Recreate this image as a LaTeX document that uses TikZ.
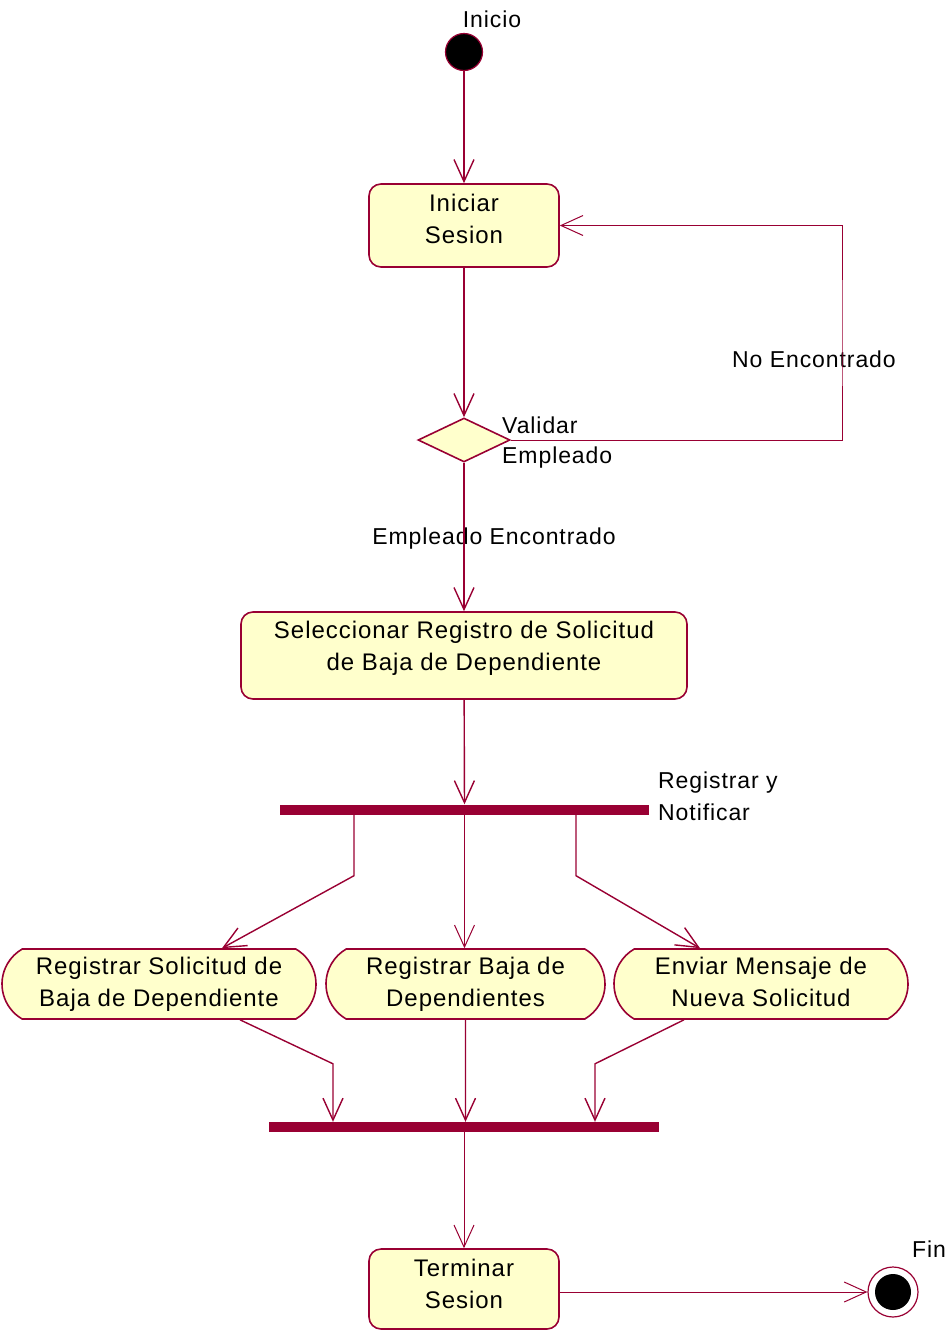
\documentclass[tikz,border=0pt]{standalone}
\usepackage{fontspec}
\newfontfamily\rosefont[LetterSpace=4]{Liberation Sans}
\usetikzlibrary{arrows.meta,shapes.geometric,shapes.misc,calc}
\definecolor{rosered}{RGB}{153,0,51}
\definecolor{roseyellow}{RGB}{255,255,204}
% two centred lines, raised inside their box
\newcommand{\boxtext}[3]{\raisebox{#1}[\height][\depth]{\begin{tabular}{@{}c@{}}#2\\#3\end{tabular}}}
\tikzset{
  conn/.style={draw=rosered, line width=1.4pt},
  arr/.style={conn, -{Straight Barb[length=22pt,width=20pt]}},
  arrthin/.style={draw=rosered, line width=1pt, -{Straight Barb[length=22pt,width=20pt]}},
  boxfont/.style={font=\rosefont\fontsize{24}{32}\selectfont},
  lbl/.style={font=\rosefont\fontsize{23}{31}\selectfont, inner sep=0pt},
  actionbox/.style={boxfont, rectangle, rounded corners=12pt, draw=rosered, fill=roseyellow,
    line width=1.6pt, inner sep=0pt},
  activity/.style={boxfont, rounded rectangle, rounded rectangle arc length=120, draw=rosered,
    fill=roseyellow, line width=1.6pt, inner sep=0pt, minimum height=70pt},
  decision/.style={diamond, draw=rosered, fill=roseyellow, line width=1.6pt, inner sep=0pt,
    minimum width=92pt, minimum height=44pt},
  syncbar/.style={rectangle, fill=rosered, inner sep=0pt, minimum height=10pt},
  startnode/.style={circle, fill=black, draw=rosered, line width=1.2pt, inner sep=0pt, minimum size=37pt},
}
\begin{document}
\begin{tikzpicture}[x=1pt,y=-1pt]
\useasboundingbox (0,0) rectangle (949,1331);

% start
\node[startnode] (ini) at (464,52) {};
\node[lbl] (iniLbl) at (492,19) {Inicio};

% login
\node[actionbox, minimum width=190pt, minimum height=83pt] (sesion) at (464,225.5)
  {\boxtext{4.5pt}{Iniciar}{Sesion}};

% employee check
\node[decision] (valida) at (464,440) {};
\node[lbl, anchor=west, font=\rosefont\fontsize{23}{30}\selectfont] (validaLbl) at (502,442)
  {\begin{tabular}{@{}l@{}}Validar\\Empleado\end{tabular}};
\coordinate (loopc) at (842,333);
\node[lbl] (noEnc) at (814,359) {No Encontrado};
\node[lbl] (siEnc) at (494,539) {Empleado Encontrado};

% selection
\node[actionbox, minimum width=446pt, minimum height=87pt] (selec) at (464,655.5)
  {\boxtext{7.5pt}{Seleccionar Registro de Solicitud}{de Baja de Dependiente}};

% fork
\node[syncbar, minimum width=369pt] (fork) at (464.5,809.5) {};
\node[lbl, anchor=west, font=\rosefont\fontsize{23}{32}\selectfont] (forkLbl) at (658,798)
  {\begin{tabular}{@{}l@{}}Registrar y\\Notificar\end{tabular}};

% parallel activities
\node[activity, minimum width=314pt] (regA) at (159,984)
  {\boxtext{0pt}{Registrar Solicitud de}{Baja de Dependiente}};
\node[activity, minimum width=279pt] (regB) at (465.5,984)
  {\boxtext{0pt}{Registrar Baja de}{Dependientes}};
\node[activity, minimum width=294pt] (envio) at (761,984)
  {\boxtext{0pt}{Enviar Mensaje de}{Nueva Solicitud}};

% join
\node[syncbar, minimum width=390pt] (join) at (464,1127) {};

% logout
\node[actionbox, minimum width=190pt, minimum height=80pt] (term) at (464,1289)
  {\boxtext{3pt}{Terminar}{Sesion}};

% end
\node[circle, draw=rosered, fill=white, line width=1.2pt, inner sep=0pt, minimum size=50pt] (fin) at (893,1292) {};
\node[circle, fill=black, inner sep=0pt, minimum size=36pt] (finCore) at (fin) {};
\node[lbl] (finLbl) at (929,1249) {Fin};

% transitions
\draw[arr] (ini) -- (sesion);
\draw[arr] (sesion) -- (valida);
\draw[arrthin] (valida.east) -| (loopc) |- (sesion.east);
\draw[arr] (valida) -- (selec);
\draw[arr] (selec) -- (fork);
\draw[arr] ($(fork.south)+(-110.5,0)$) -- ++(0,61) -- ($(regA.north)+(63,0)$);
\draw[arrthin] (fork.south) -- (fork.south |- regB.north);
\draw[arr] ($(fork.south)+(111.5,0)$) -- ++(0,61) -- ($(envio.north)+(-61,0)$);
\draw[arr] ($(regA.south)+(81,0)$) -- ++(93,44) coordinate (jA) -- (jA |- join.north);
\draw[arr] (regB) -- (regB |- join.north);
\draw[arr] ($(envio.south)+(-77,0)$) -- ++(-89,44) coordinate (jC) -- (jC |- join.north);
\draw[arrthin] (join) -- (term);
\draw[arrthin] (term.east |- fin.west) -- (fin.west);
\end{tikzpicture}
\end{document}
